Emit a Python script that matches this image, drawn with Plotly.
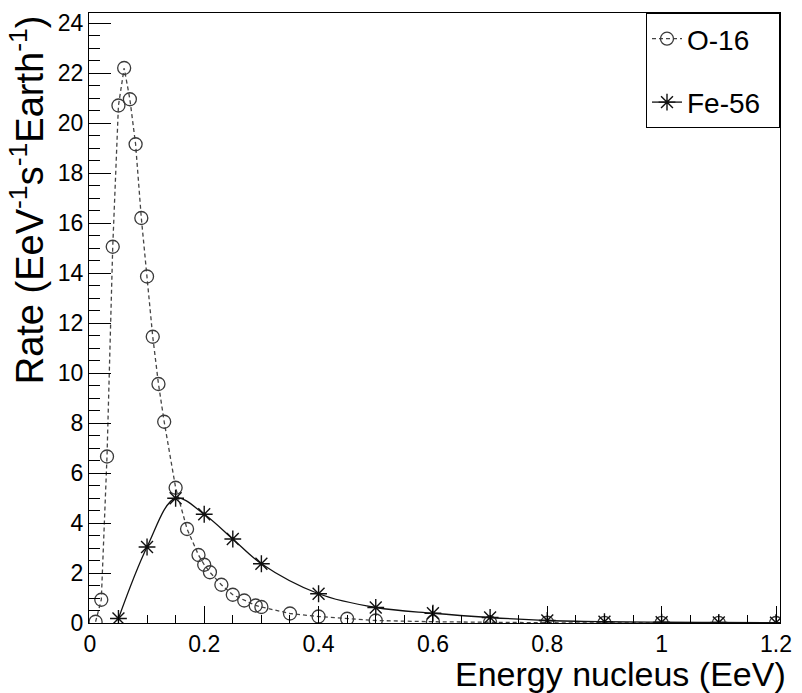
import plotly.graph_objects as go

# ---- data ----
o16_energy = [0.01, 0.02, 0.03, 0.04, 0.05, 0.06, 0.07, 0.08, 0.09, 0.10, 0.11, 0.12, 0.13,
              0.15, 0.17, 0.19, 0.20, 0.21, 0.23, 0.25, 0.27, 0.29, 0.30, 0.35, 0.40, 0.45,
              0.50, 0.60, 0.70, 0.80, 0.90, 1.00, 1.10, 1.20]
o16_rate = [0.05, 0.93, 6.66, 15.05, 20.7, 22.2, 20.95, 19.15, 16.2, 13.86, 11.45, 9.56, 8.05,
            5.41, 3.76, 2.72, 2.33, 2.03, 1.53, 1.13, 0.90, 0.70, 0.64, 0.38, 0.26, 0.17,
            0.10, 0.05, 0.02, 0.01, 0.005, 0.003, 0.002, 0.001]

fe56_energy = [0.05, 0.10, 0.15, 0.20, 0.25, 0.30, 0.40, 0.50, 0.60, 0.70, 0.80, 0.90, 1.00, 1.10, 1.20]
fe56_rate = [0.18, 3.04, 4.99, 4.35, 3.36, 2.37, 1.17, 0.62, 0.39, 0.22, 0.10, 0.05, 0.03, 0.02, 0.01]

series_names = ["O-16", "Fe-56"]
x_title = "Energy nucleus (EeV)"
y_title = "Rate (EeV<sup>-1</sup>s<sup>-1</sup>Earth<sup>-1</sup>)"

FONT = "Liberation Sans, Arial, Helvetica, sans-serif"

fig = go.Figure()
fig.add_trace(go.Scatter(
    x=o16_energy, y=o16_rate, name=series_names[0], legendgroup="a",
    mode="lines+markers",
    line=dict(color="#444444", width=1.3, dash="4px,3px"),
    marker=dict(symbol="circle-open", size=13, color="#3a3a3a", line=dict(width=1.3, color="#3a3a3a")),
))
fig.add_trace(go.Scatter(
    x=fe56_energy, y=fe56_rate, name=series_names[1] + "\u00a0\u2009", legendgroup="b",
    mode="lines+markers",
    line=dict(color="#111111", width=1.3, shape="spline", smoothing=1),
    marker=dict(symbol="asterisk-open", size=14, color="#111111", line=dict(width=1.4, color="#111111")),
))

xr = [-0.0015, 1.207]
fig.update_layout(
    width=802, height=693, autosize=False,
    margin=dict(l=89, r=14, t=10, b=70),
    paper_bgcolor="white", plot_bgcolor="white",
    font=dict(family=FONT, color="black"),
    showlegend=True,
    legend=dict(x=1, xanchor="right", y=1, yanchor="top",
                bordercolor="black", borderwidth=1, bgcolor="white",
                font=dict(size=28, family=FONT, color="black"),
                tracegroupgap=24, itemwidth=30),
    xaxis=dict(range=xr, dtick=0.2, tick0=0, ticks="inside", ticklen=17, tickwidth=1,
               tickcolor="black", showline=True, linecolor="black", linewidth=1, mirror=True,
               showgrid=False, zeroline=False, tickfont=dict(size=23, family=FONT),
               minor=dict(dtick=0.05, tick0=0, ticks="inside", ticklen=8, tickcolor="black", showgrid=False)),
    xaxis2=dict(range=xr, overlaying="x", anchor="y", side="bottom", dtick=0.1, tick0=0,
                ticks="inside", ticklen=12, tickwidth=1, tickcolor="black",
                showticklabels=False, showline=False, showgrid=False, zeroline=False),
    yaxis=dict(range=[0, 24.4], dtick=2, tick0=0, ticks="inside", ticklen=22, tickwidth=1,
               tickcolor="black", showline=True, linecolor="black", linewidth=1, mirror=True,
               showgrid=False, zeroline=False, tickfont=dict(size=23, family=FONT),
               minor=dict(dtick=0.5, tick0=0, ticks="inside", ticklen=11, tickcolor="black", showgrid=False)),
    annotations=[
        dict(text=x_title, xref="paper", yref="paper", x=1.0, y=-0.084, xshift=8,
             xanchor="right", yanchor="middle", showarrow=False,
             font=dict(size=34, family=FONT, color="black")),
        dict(text=y_title, xref="paper", yref="paper", x=-0.09, y=1.0,
             xanchor="center", yanchor="top", textangle=-90, showarrow=False,
             font=dict(size=38, family=FONT, color="black")),
    ],
)

fig.write_html("out.html")
